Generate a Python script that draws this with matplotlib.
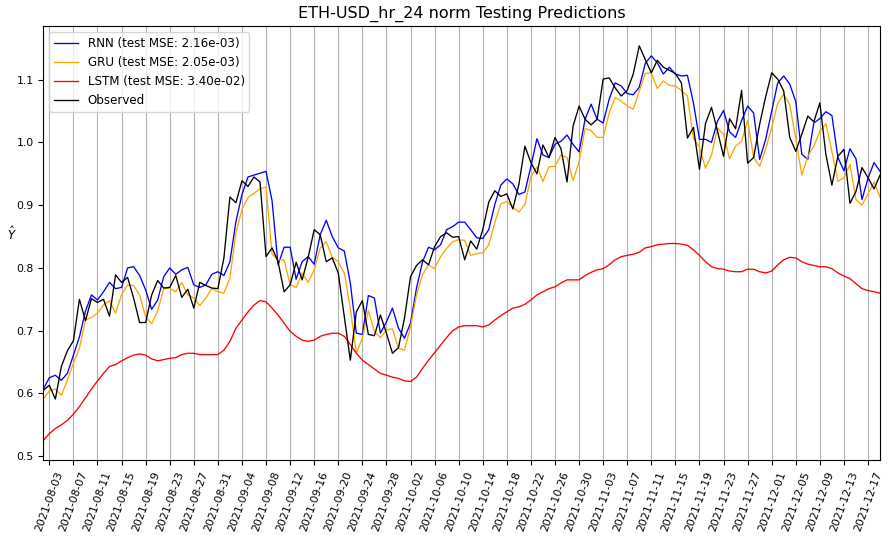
import pandas as pd
import matplotlib
matplotlib.use("Agg")
import matplotlib.pyplot as plt
import matplotlib.dates as mdates

START_DATE = "2021-08-02"
TITLE = "ETH-USD_hr_24 norm Testing Predictions"

observed = [
    0.605, 0.613, 0.591, 0.643, 0.668, 0.684, 0.750, 0.716, 0.751, 0.745, 0.750, 0.723, 0.789, 0.777, 0.785, 0.752, 0.713, 0.713, 0.757, 0.780, 0.768, 0.769, 0.788, 0.753, 0.766,
    0.736, 0.777, 0.772, 0.768, 0.767, 0.816, 0.913, 0.904, 0.939, 0.930, 0.945, 0.937, 0.818, 0.832, 0.810, 0.762, 0.773, 0.809, 0.781, 0.817, 0.861, 0.853, 0.810, 0.816,
    0.792, 0.722, 0.653, 0.730, 0.748, 0.694, 0.692, 0.725, 0.696, 0.664, 0.673, 0.720, 0.786, 0.804, 0.813, 0.805, 0.834, 0.850, 0.856, 0.849, 0.850, 0.813, 0.843, 0.830,
    0.861, 0.905, 0.923, 0.914, 0.918, 0.894, 0.933, 0.994, 0.968, 0.950, 0.996, 0.976, 1.008, 0.990, 0.937, 1.026, 1.058, 1.037, 1.028, 1.037, 1.101, 1.103, 1.087, 1.074,
    1.083, 1.109, 1.154, 1.132, 1.111, 1.131, 1.120, 1.115, 1.110, 1.095, 1.007, 1.024, 0.957, 1.030, 1.056, 1.018, 0.978, 1.038, 1.022, 1.083, 0.967, 0.976, 1.029, 1.073,
    1.111, 1.101, 1.082, 1.008, 0.986, 1.013, 1.042, 1.033, 1.063, 0.981, 0.932, 0.978, 0.989, 0.903, 0.922, 0.960, 0.944, 0.926, 0.948,
]

rnn = [
    0.607, 0.625, 0.629, 0.621, 0.632, 0.661, 0.690, 0.731, 0.757, 0.749, 0.762, 0.777, 0.767, 0.769, 0.800, 0.802, 0.788, 0.765, 0.734, 0.749, 0.786, 0.800, 0.790, 0.797, 0.801,
    0.773, 0.769, 0.773, 0.790, 0.794, 0.788, 0.810, 0.874, 0.917, 0.945, 0.948, 0.951, 0.954, 0.907, 0.805, 0.833, 0.833, 0.782, 0.810, 0.818, 0.806, 0.853, 0.876, 0.850,
    0.832, 0.827, 0.776, 0.696, 0.694, 0.756, 0.752, 0.696, 0.714, 0.736, 0.704, 0.688, 0.712, 0.768, 0.810, 0.833, 0.829, 0.837, 0.861, 0.866, 0.873, 0.873, 0.861, 0.848,
    0.847, 0.861, 0.901, 0.932, 0.942, 0.934, 0.917, 0.921, 0.962, 1.006, 0.980, 0.976, 0.997, 1.002, 1.012, 0.997, 0.985, 1.037, 1.061, 1.037, 1.031, 1.069, 1.095, 1.090,
    1.078, 1.076, 1.088, 1.126, 1.138, 1.127, 1.109, 1.120, 1.109, 1.106, 1.107, 1.063, 1.005, 1.005, 1.000, 1.034, 1.051, 1.017, 1.008, 1.035, 1.058, 1.047, 0.973, 1.005,
    1.050, 1.095, 1.106, 1.093, 1.065, 0.981, 0.973, 1.031, 1.038, 1.049, 1.043, 0.976, 0.955, 0.990, 0.974, 0.909, 0.943, 0.968, 0.954,
]

gru = [
    0.591, 0.604, 0.607, 0.597, 0.621, 0.648, 0.672, 0.717, 0.721, 0.728, 0.741, 0.748, 0.728, 0.757, 0.773, 0.772, 0.757, 0.722, 0.711, 0.732, 0.767, 0.768, 0.762, 0.777, 0.757,
    0.752, 0.740, 0.752, 0.767, 0.762, 0.760, 0.784, 0.856, 0.893, 0.912, 0.919, 0.926, 0.929, 0.822, 0.813, 0.813, 0.773, 0.769, 0.792, 0.777, 0.797, 0.832, 0.842, 0.817,
    0.810, 0.792, 0.736, 0.664, 0.688, 0.732, 0.699, 0.689, 0.701, 0.703, 0.672, 0.669, 0.706, 0.757, 0.789, 0.805, 0.799, 0.818, 0.831, 0.842, 0.845, 0.844, 0.820, 0.823,
    0.824, 0.837, 0.872, 0.902, 0.906, 0.897, 0.889, 0.901, 0.945, 0.961, 0.938, 0.961, 0.962, 0.980, 0.976, 0.939, 0.969, 1.022, 1.019, 1.008, 1.008, 1.047, 1.072, 1.066,
    1.058, 1.053, 1.082, 1.110, 1.111, 1.086, 1.098, 1.091, 1.090, 1.083, 1.074, 1.007, 0.992, 0.959, 0.980, 1.023, 1.013, 0.974, 0.994, 1.002, 1.035, 0.976, 0.962, 0.990,
    1.023, 1.063, 1.077, 1.060, 1.006, 0.948, 0.978, 0.994, 1.018, 1.030, 0.986, 0.938, 0.944, 0.965, 0.909, 0.900, 0.918, 0.937, 0.913,
]

lstm = [
    0.525, 0.536, 0.544, 0.550, 0.557, 0.567, 0.579, 0.593, 0.607, 0.620, 0.632, 0.643, 0.646, 0.652, 0.657, 0.661, 0.663, 0.661, 0.655, 0.652, 0.654, 0.656, 0.657, 0.662, 0.664,
    0.664, 0.662, 0.662, 0.662, 0.662, 0.669, 0.683, 0.704, 0.717, 0.730, 0.741, 0.748, 0.746, 0.736, 0.725, 0.712, 0.699, 0.691, 0.685, 0.683, 0.685, 0.691, 0.694, 0.696,
    0.696, 0.691, 0.678, 0.664, 0.653, 0.646, 0.639, 0.632, 0.629, 0.626, 0.624, 0.620, 0.619, 0.626, 0.640, 0.653, 0.665, 0.677, 0.689, 0.700, 0.706, 0.708, 0.708, 0.708,
    0.706, 0.709, 0.717, 0.724, 0.730, 0.736, 0.738, 0.742, 0.749, 0.757, 0.762, 0.767, 0.770, 0.776, 0.781, 0.781, 0.781, 0.788, 0.793, 0.797, 0.799, 0.805, 0.813, 0.818,
    0.820, 0.822, 0.825, 0.832, 0.834, 0.837, 0.838, 0.839, 0.839, 0.838, 0.836, 0.829, 0.820, 0.810, 0.802, 0.799, 0.798, 0.795, 0.794, 0.794, 0.798, 0.798, 0.794, 0.792,
    0.795, 0.805, 0.813, 0.817, 0.816, 0.810, 0.806, 0.804, 0.802, 0.802, 0.799, 0.792, 0.787, 0.783, 0.775, 0.767, 0.764, 0.762, 0.760,
]

mse = {"RNN": "2.16e-03", "GRU": "2.05e-03", "LSTM": "3.40e-02"}

dates = pd.date_range(START_DATE, periods=len(observed), freq="D")

fig = plt.figure(figsize=(8.93, 5.44), dpi=100)
ax = fig.add_axes([0.0485, 0.154, 0.937, 0.798])

lw = 0.95
ax.plot(dates, rnn, color="blue", lw=lw, label=f"RNN (test MSE: {mse['RNN']})")
ax.plot(dates, gru, color="orange", lw=lw, label=f"GRU (test MSE: {mse['GRU']})")
ax.plot(dates, lstm, color="red", lw=lw, label=f"LSTM (test MSE: {mse['LSTM']})")
ax.plot(dates, observed, color="black", lw=lw, label="Observed")

ax.set_xlim(dates[0], dates[-1])
ax.set_xticks(dates[1::4])
ax.xaxis.set_major_formatter(mdates.DateFormatter("%Y-%m-%d"))
ax.tick_params(axis="x", labelrotation=70, labelsize=7.8)
ax.tick_params(axis="y", labelsize=7.8)
ax.grid(axis="x", color="#b0b0b0", lw=0.8)

ax.set_title(TITLE, fontsize=11.5)
ax.set_ylabel(r"$\hat{Y}$", rotation=0, fontsize=8.5, labelpad=3)
ax.legend(loc="upper left", fontsize=8.6)

fig.savefig("out.png", dpi=100)
